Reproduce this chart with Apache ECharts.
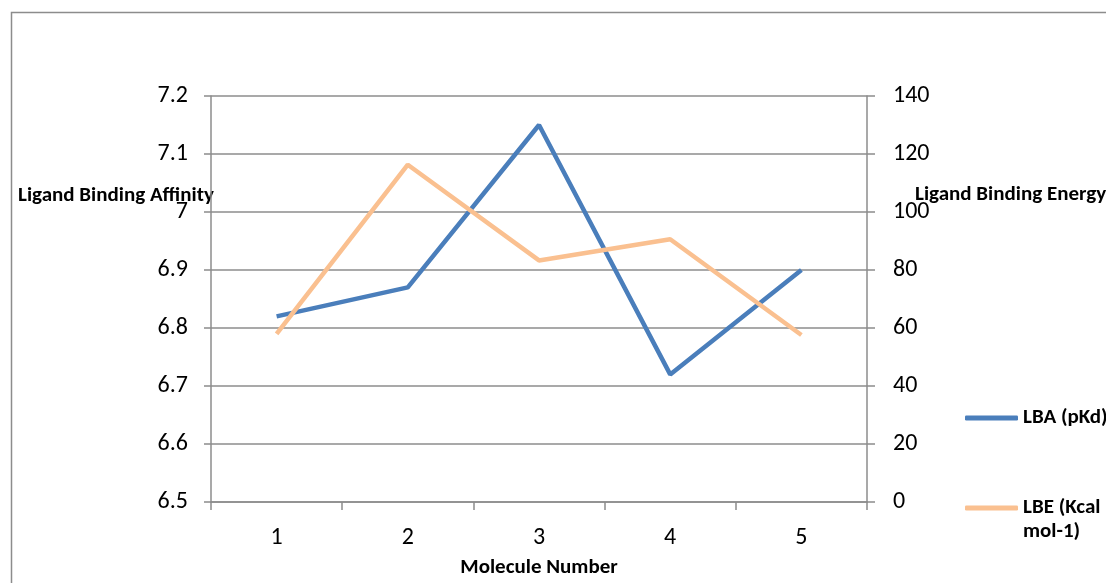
<!DOCTYPE html>
<html><head><meta charset="utf-8">
<script src="https://cdn.jsdelivr.net/npm/echarts@6/dist/echarts.min.js"></script>
<style>html,body{margin:0;padding:0;background:#fff}#c{width:1106px;height:583px}</style>
</head><body><div id="c"></div>
<script>
var categories = ['1','2','3','4','5'];
var lbaValues = [6.82, 6.87, 7.15, 6.72, 6.90];
var lbeValues = [58, 116.3, 83.3, 90.6, 57.6];
var lbaName = 'LBA (pKd)';
var lbeName = 'LBE (Kcal mol-1)';
var leftTitle = 'Ligand Binding Affinity';
var rightTitle = 'Ligand Binding Energy';
var xTitle = 'Molecule Number';

var FONT = 'Carlito, "Liberation Sans Narrow", "Open Sans", sans-serif';
var BOLD = 'Carlito, "Open Sans", "Noto Sans", sans-serif';
var gray = '#8c8c8c';
var chart = echarts.init(document.getElementById('c'));
chart.setOption({
  animation: false,
  backgroundColor: '#fff',
  grid: {left: 211, right: 239, top: 96, bottom: 81, containLabel: false},
  graphic: [
    {type: 'rect', shape: {x: 11.5, y: 12.5, width: 1110, height: 600}, style: {fill: 'none', stroke: gray, lineWidth: 1.5}, silent: true},
    {type: 'text', left: 18, top: 185, style: {text: leftTitle, font: 'bold 21px ' + BOLD, fill: '#000'}},
    {type: 'text', left: 915, top: 184, style: {text: rightTitle, font: 'bold 21px ' + BOLD, fill: '#000'}}
  ],
  legend: [
    {orient: 'vertical', left: 960, top: 401, data: [lbaName], icon: 'roundRect', itemWidth: 53, itemHeight: 5,
     textStyle: {fontFamily: BOLD, fontWeight: 'bold', fontSize: 21, color: '#000', lineHeight: 24}},
    {orient: 'vertical', left: 960, top: 467, data: [lbeName], icon: 'roundRect', itemWidth: 53, itemHeight: 5,
     formatter: function(){ return ' \nLBE (Kcal\nmol-1)'; },
     textStyle: {fontFamily: BOLD, fontWeight: 'bold', fontSize: 21, color: '#000', lineHeight: 24}}
  ],
  xAxis: {
    type: 'category', data: categories, boundaryGap: true,
    name: xTitle, nameLocation: 'middle', nameGap: 55,
    nameTextStyle: {fontFamily: BOLD, fontWeight: 'bold', fontSize: 21, color: '#000'},
    axisLine: {lineStyle: {color: gray, width: 1.5}},
    axisTick: {show: true, interval: 0, length: 8, lineStyle: {color: gray, width: 1.5}},
    axisLabel: {fontFamily: FONT, fontSize: 24, color: '#000', margin: 24},
    splitLine: {show: false}
  },
  yAxis: [
    {type: 'value', min: 6.5, max: 7.2, interval: 0.1, position: 'left',
     axisLine: {show: true, lineStyle: {color: gray, width: 1.5}},
     axisTick: {show: true, length: 7, lineStyle: {color: gray, width: 1.5}},
     axisLabel: {fontFamily: FONT, fontSize: 24, color: '#000', margin: 23,
       formatter: function(v){ return String(parseFloat(v.toFixed(1))); }},
     splitLine: {show: true, lineStyle: {color: gray, width: 1.5}}},
    {type: 'value', min: 0, max: 140, interval: 20, position: 'right',
     axisLine: {show: true, lineStyle: {color: gray, width: 1.5}},
     axisTick: {show: true, length: 8, lineStyle: {color: gray, width: 1.5}},
     axisLabel: {fontFamily: FONT, fontSize: 24, color: '#000', margin: 26},
     splitLine: {show: false}}
  ],
  series: [
    {name: lbaName, type: 'line', yAxisIndex: 0, data: lbaValues, showSymbol: false, symbol: 'none',
     lineStyle: {color: '#4a7ebb', width: 4.5}, itemStyle: {color: '#4a7ebb'}},
    {name: lbeName, type: 'line', yAxisIndex: 1, data: lbeValues, showSymbol: false, symbol: 'none',
     lineStyle: {color: '#fac090', width: 4.5}, itemStyle: {color: '#fac090'}}
  ]
});
</script></body></html>
